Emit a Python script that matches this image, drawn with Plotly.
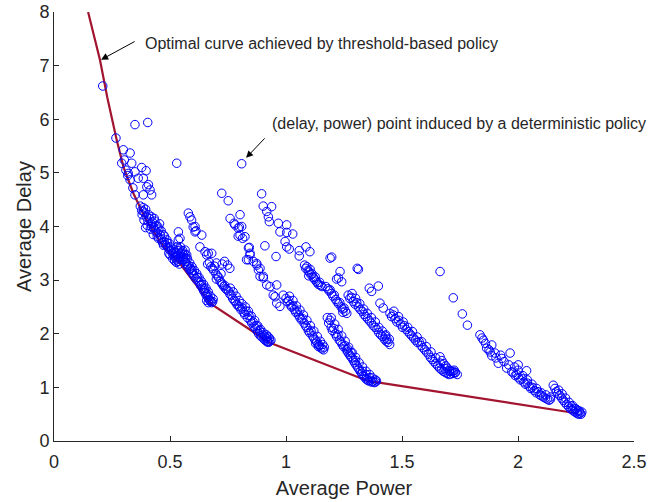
import plotly.graph_objects as go

# Optimal curve (threshold-based policy)
curve_power = [0.147, 0.170, 0.198, 0.230, 0.270, 0.300, 0.342, 0.400, 0.471, 0.543, 0.672, 0.931, 1.353, 2.253]
curve_delay = [8.00, 7.60, 7.11, 6.40, 5.62, 5.10, 4.62, 4.10, 3.63, 3.31, 2.57, 1.83, 1.12, 0.517]

# Deterministic-policy points, grouped by streak
g1 = [(0.210, 6.62), (0.349, 5.90), (0.404, 5.94), (0.529, 5.18), (0.809, 5.17),
      (0.267, 5.65), (0.299, 5.43), (0.328, 5.37), (0.303, 5.24), (0.292, 5.18), (0.335, 5.18),
      (0.378, 5.10), (0.397, 5.04), (0.320, 4.99), (0.349, 5.02), (0.328, 4.87), (0.363, 4.90),
      (0.385, 4.90), (0.407, 4.78), (0.400, 4.74), (0.414, 4.68), (0.385, 4.59), (0.349, 4.59),
      (0.421, 4.59), (0.318, 4.95), (0.340, 4.72), (0.310, 5.05),
      (0.372, 4.38), (0.378, 4.30), (0.385, 4.35), (0.380, 4.22), (0.392, 4.25), (0.398, 4.18),
      (0.388, 4.12), (0.405, 4.10), (0.412, 4.15), (0.418, 4.05), (0.402, 4.02), (0.425, 4.08),
      (0.430, 3.98), (0.415, 3.95), (0.436, 3.92), (0.440, 4.02), (0.445, 3.88), (0.428, 3.85),
      (0.452, 3.95), (0.458, 3.84), (0.450, 3.78), (0.462, 3.76), (0.470, 3.85), (0.468, 3.70),
      (0.475, 3.72), (0.480, 3.66), (0.486, 3.75), (0.490, 3.62), (0.495, 3.58), (0.498, 3.68),
      (0.505, 3.55), (0.510, 3.50), (0.515, 3.58), (0.518, 3.45), (0.522, 3.42), (0.525, 3.52),
      (0.530, 3.38), (0.535, 3.35), (0.540, 3.30), (0.528, 3.33), (0.512, 3.40), (0.500, 3.47),
      (0.545, 3.42), (0.395, 3.98), (0.432, 4.15), (0.455, 4.05)]

g2 = [(0.579, 4.25), (0.586, 4.18), (0.593, 4.12), (0.600, 3.99), (0.608, 4.00), (0.612, 3.92),
      (0.637, 3.84), (0.608, 3.90), (0.536, 3.90), (0.543, 3.78), (0.536, 3.75), (0.565, 3.56),
      (0.572, 3.47), (0.629, 3.62), (0.651, 3.53), (0.665, 3.50), (0.680, 3.50), (0.658, 3.47),
      (0.530, 3.62), (0.535, 3.55), (0.540, 3.58), (0.545, 3.50), (0.548, 3.45), (0.552, 3.52),
      (0.556, 3.42), (0.560, 3.38), (0.558, 3.47), (0.565, 3.35), (0.568, 3.40), (0.572, 3.30),
      (0.575, 3.25), (0.580, 3.28), (0.584, 3.20), (0.588, 3.22), (0.592, 3.15), (0.596, 3.18),
      (0.600, 3.12), (0.603, 3.08),
      (0.612, 3.02), (0.618, 3.05), (0.622, 2.98), (0.628, 2.95), (0.632, 2.90), (0.636, 2.92),
      (0.640, 2.85), (0.645, 2.80), (0.648, 2.84), (0.652, 2.76), (0.656, 2.72), (0.660, 2.75),
      (0.664, 2.68), (0.668, 2.64), (0.672, 2.62), (0.676, 2.60), (0.680, 2.58), (0.684, 2.60),
      (0.665, 2.58), (0.658, 2.62)]

g3 = [(0.662, 3.30), (0.670, 3.33), (0.676, 3.25), (0.682, 3.22), (0.688, 3.18), (0.692, 3.26),
      (0.698, 3.12), (0.704, 3.08), (0.700, 3.02), (0.710, 3.05), (0.716, 2.98), (0.722, 2.95),
      (0.726, 2.92), (0.732, 2.88), (0.736, 2.90), (0.740, 2.84), (0.745, 2.82), (0.720, 3.12),
      (0.700, 3.32), (0.725, 3.30), (0.735, 3.35), (0.748, 3.28), (0.758, 3.22),
      (0.752, 2.80), (0.758, 2.74), (0.764, 2.72), (0.770, 2.66), (0.776, 2.62), (0.782, 2.60),
      (0.788, 2.55), (0.794, 2.52), (0.800, 2.50), (0.806, 2.45), (0.812, 2.48), (0.818, 2.40),
      (0.822, 2.36), (0.828, 2.42), (0.834, 2.30), (0.840, 2.34), (0.846, 2.25), (0.852, 2.20),
      (0.858, 2.22), (0.862, 2.14), (0.868, 2.10), (0.872, 2.15), (0.876, 2.05), (0.882, 2.00),
      (0.886, 2.06), (0.890, 1.96), (0.896, 1.94), (0.900, 1.98), (0.905, 1.90), (0.910, 1.88),
      (0.915, 1.92), (0.920, 1.86), (0.925, 1.84), (0.930, 1.86), (0.918, 1.85), (0.908, 1.95)]

g4 = [(0.723, 4.62), (0.751, 4.48), (0.759, 4.15), (0.776, 4.06), (0.780, 4.03), (0.794, 3.97),
      (0.799, 3.99), (0.802, 4.22), (0.809, 4.00), (0.802, 3.84), (0.823, 3.81), (0.794, 3.82),
      (0.813, 3.78), (0.838, 3.60), (0.842, 3.61), (0.830, 3.38), (0.845, 3.50), (0.838, 3.38),
      (0.859, 3.35), (0.874, 3.28), (0.881, 3.19), (0.888, 3.07), (0.902, 3.04), (0.917, 2.91),
      (0.931, 2.88), (0.953, 2.69), (0.888, 3.22), (0.874, 3.31), (0.845, 3.47), (0.902, 3.07),
      (0.960, 2.91), (0.945, 2.72), (0.960, 2.57), (0.974, 2.51), (0.988, 2.72),
      (0.895, 4.61), (0.902, 4.38), (0.938, 4.37), (0.917, 4.28), (0.924, 4.18), (0.928, 4.09),
      (0.967, 4.06), (1.003, 4.03), (0.974, 3.90), (1.003, 3.89), (1.029, 3.86), (0.996, 3.72),
      (1.003, 3.62), (1.014, 3.58), (0.909, 3.64), (0.957, 3.44),
      (1.057, 3.55), (1.057, 3.45), (1.086, 3.62), (1.103, 3.53), (1.190, 3.41), (1.197, 3.43),
      (1.307, 3.22), (1.312, 3.20), (1.233, 3.16), (1.226, 3.04), (1.240, 2.97), (1.218, 3.02),
      (1.664, 3.16), (1.721, 2.67), (1.760, 2.37), (1.782, 2.16)]

g5 = [(1.080, 3.28), (1.085, 3.22), (1.090, 3.25), (1.095, 3.18), (1.100, 3.15), (1.104, 3.20),
      (1.108, 3.10), (1.112, 3.12), (1.118, 3.05), (1.122, 3.02), (1.126, 3.06), (1.130, 2.98),
      (1.135, 2.95), (1.140, 2.92), (1.145, 2.96), (1.150, 2.90), (1.155, 2.88), (1.098, 3.08),
      (1.172, 2.88), (1.180, 2.84), (1.186, 2.80), (1.190, 2.82), (1.196, 2.75), (1.202, 2.70),
      (1.208, 2.72), (1.214, 2.64), (1.220, 2.60), (1.226, 2.56), (1.232, 2.58), (1.238, 2.50),
      (1.244, 2.46), (1.250, 2.48), (1.256, 2.42), (1.262, 2.38), (1.245, 2.40),
      (1.000, 2.66), (1.006, 2.60), (1.012, 2.62), (1.018, 2.54), (1.024, 2.50), (1.030, 2.52),
      (1.036, 2.45), (1.042, 2.40), (1.048, 2.42), (1.054, 2.35), (1.060, 2.30), (1.066, 2.26),
      (1.072, 2.28), (1.078, 2.20), (1.084, 2.15), (1.090, 2.12), (1.096, 2.06), (1.102, 2.02),
      (1.108, 2.05), (1.114, 1.96), (1.120, 1.92), (1.126, 1.88), (1.132, 1.85), (1.138, 1.80),
      (1.144, 1.78), (1.150, 1.74), (1.156, 1.72), (1.162, 1.70), (1.140, 1.76), (1.128, 1.82)]

g6 = [(1.178, 2.30), (1.184, 2.20), (1.190, 2.25), (1.195, 2.12), (1.200, 2.06), (1.206, 2.10),
      (1.212, 2.00), (1.218, 1.95), (1.224, 1.98), (1.230, 1.88), (1.236, 1.85), (1.242, 1.80),
      (1.248, 1.76), (1.254, 1.78), (1.260, 1.70), (1.266, 1.66), (1.272, 1.62), (1.278, 1.58),
      (1.284, 1.55), (1.290, 1.50), (1.296, 1.46), (1.302, 1.42), (1.308, 1.38), (1.314, 1.34),
      (1.320, 1.30), (1.326, 1.26), (1.332, 1.22), (1.338, 1.20), (1.344, 1.16), (1.350, 1.14),
      (1.356, 1.12), (1.362, 1.13), (1.368, 1.10), (1.374, 1.11), (1.380, 1.09), (1.386, 1.10),
      (1.360, 1.18), (1.345, 1.24), (1.330, 1.30), (1.300, 1.50), (1.280, 1.65), (1.265, 1.72),
      (1.268, 2.72), (1.275, 2.66), (1.282, 2.68), (1.290, 2.60), (1.298, 2.55), (1.305, 2.58),
      (1.312, 2.50), (1.320, 2.45), (1.328, 2.42), (1.336, 2.36), (1.344, 2.32), (1.352, 2.28),
      (1.360, 2.24), (1.368, 2.20), (1.376, 2.15), (1.384, 2.12), (1.392, 2.08), (1.400, 2.02),
      (1.408, 1.98), (1.416, 1.95), (1.424, 1.90), (1.432, 1.86), (1.440, 1.84), (1.435, 1.90),
      (1.428, 1.96), (1.398, 2.89), (1.359, 2.85), (1.369, 2.79), (1.405, 2.57), (1.419, 2.48)]

g7 = [(1.448, 2.38), (1.455, 2.32), (1.462, 2.35), (1.470, 2.28), (1.478, 2.22), (1.486, 2.25),
      (1.494, 2.18), (1.502, 2.12), (1.510, 2.15), (1.518, 2.08), (1.526, 2.04), (1.534, 2.00),
      (1.542, 1.96), (1.550, 1.92), (1.558, 1.88), (1.566, 1.84), (1.574, 1.85), (1.582, 1.78),
      (1.590, 1.74), (1.598, 1.70), (1.606, 1.66), (1.614, 1.62), (1.622, 1.56), (1.630, 1.52),
      (1.638, 1.48), (1.646, 1.44), (1.654, 1.40), (1.662, 1.36), (1.670, 1.33), (1.678, 1.30),
      (1.686, 1.28), (1.694, 1.26), (1.702, 1.24), (1.710, 1.25), (1.720, 1.26), (1.728, 1.27),
      (1.664, 1.57), (1.672, 1.50), (1.680, 1.44), (1.688, 1.40), (1.696, 1.36), (1.704, 1.32),
      (1.712, 1.30), (1.720, 1.30), (1.730, 1.28)]

g8 = [(1.836, 1.98), (1.851, 1.88), (1.887, 1.79), (1.865, 1.73), (1.901, 1.64), (1.966, 1.64),
      (1.887, 1.59), (1.930, 1.54), (1.915, 1.45), (1.951, 1.36), (2.001, 1.42), (2.037, 1.31),
      (1.973, 1.29), (2.152, 1.04), (2.159, 0.98), (1.845, 1.92), (1.875, 1.70), (1.940, 1.48),
      (1.980, 1.27), (1.988, 1.22), (1.995, 1.24), (2.002, 1.18), (2.010, 1.14), (2.018, 1.16),
      (2.025, 1.10), (2.032, 1.06), (2.040, 1.08), (2.048, 1.02), (2.055, 0.98), (2.062, 1.00),
      (2.070, 0.94), (2.078, 0.90), (2.086, 0.92), (2.094, 0.86), (2.102, 0.84), (2.110, 0.82),
      (2.118, 0.80), (2.126, 0.78), (2.134, 0.76), (2.140, 0.78),
      (2.165, 0.92), (2.172, 0.88), (2.180, 0.85), (2.188, 0.80), (2.195, 0.76), (2.202, 0.72),
      (2.210, 0.68), (2.218, 0.64), (2.226, 0.60), (2.234, 0.58), (2.242, 0.55), (2.250, 0.53),
      (2.256, 0.51), (2.262, 0.50), (2.268, 0.52), (2.272, 0.50), (2.245, 0.60), (2.230, 0.65),
      (2.258, 0.56)]

# additional points read from the thick parts of the dense streaks
g9 = [(0.385, 4.28), (0.395, 4.32), (0.408, 4.22), (0.420, 4.18), (0.435, 4.10), (0.448, 4.00),
      (0.462, 3.92), (0.476, 3.82), (0.488, 3.70), (0.502, 3.62), (0.515, 3.52), (0.528, 3.45),
      (0.538, 3.40), (0.420, 4.00), (0.445, 3.82), (0.472, 3.65), (0.495, 3.50), (0.520, 3.36),
      (0.545, 3.62), (0.555, 3.55), (0.565, 3.48), (0.575, 3.40), (0.585, 3.32), (0.595, 3.25),
      (0.605, 3.18), (0.615, 3.12), (0.625, 3.05), (0.635, 2.98), (0.645, 2.92), (0.655, 2.85),
      (0.665, 2.78), (0.675, 2.70), (0.686, 2.65),
      (0.760, 2.85), (0.772, 2.78), (0.785, 2.70), (0.798, 2.62), (0.810, 2.56), (0.825, 2.50),
      (0.838, 2.42), (0.850, 2.33), (0.865, 2.25), (0.878, 2.15), (0.890, 2.08), (0.902, 2.02),
      (0.915, 1.98), (0.928, 1.92), (0.935, 1.88), (0.922, 1.95),
      (1.015, 2.70), (1.030, 2.62), (1.045, 2.52), (1.060, 2.44), (1.075, 2.35), (1.090, 2.25),
      (1.105, 2.15), (1.120, 2.05), (1.135, 1.95), (1.148, 1.86), (1.158, 1.80), (1.165, 1.75),
      (1.195, 2.30), (1.210, 2.18), (1.225, 2.08), (1.240, 1.96), (1.255, 1.86), (1.270, 1.75),
      (1.285, 1.65), (1.300, 1.56), (1.315, 1.46), (1.330, 1.38), (1.345, 1.30), (1.360, 1.24),
      (1.372, 1.18), (1.385, 1.14), (1.390, 1.12),
      (1.285, 2.75), (1.300, 2.66), (1.318, 2.56), (1.335, 2.46), (1.350, 2.38), (1.368, 2.30),
      (1.385, 2.22), (1.400, 2.12), (1.415, 2.05), (1.430, 1.98), (1.445, 1.90), (1.447, 1.80),
      (1.465, 2.42), (1.485, 2.32), (1.505, 2.22), (1.525, 2.12), (1.545, 2.04), (1.565, 1.94),
      (1.585, 1.85), (1.605, 1.76), (1.625, 1.66), (1.645, 1.55), (1.665, 1.45), (1.685, 1.35),
      (1.705, 1.30), (1.725, 1.32), (1.738, 1.24),
      (2.000, 1.32), (2.020, 1.22), (2.040, 1.14), (2.060, 1.06), (2.080, 0.98), (2.100, 0.90),
      (2.120, 0.86), (2.140, 0.82), (2.175, 0.95), (2.190, 0.88), (2.205, 0.80), (2.220, 0.72),
      (2.235, 0.66), (2.250, 0.60), (2.265, 0.56), (2.275, 0.54),
      (1.860, 1.82), (1.880, 1.66), (1.905, 1.55), (1.925, 1.60), (1.960, 1.42), (1.985, 1.38)]

groups = [g1, g2, g3, g4, g5, g6, g7, g8, g9]
pts_power = [p for g in groups for p, d in g]
pts_delay = [d for g in groups for p, d in g]

x_ticks = [0, 0.5, 1, 1.5, 2, 2.5]
x_labels = ["0", "0.5", "1", "1.5", "2", "2.5"]
y_ticks = [0, 1, 2, 3, 4, 5, 6, 7, 8]

TXT = "#262626"
FONT = "Liberation Sans, Arial, sans-serif"

fig = go.Figure()
fig.add_trace(go.Scatter(x=curve_power, y=curve_delay, mode="lines",
                         line=dict(color="#A2142F", width=2.2), hoverinfo="skip"))
fig.add_trace(go.Scatter(x=pts_power, y=pts_delay, mode="markers",
                         marker=dict(symbol="circle-open", size=8.5, color="#0000FF",
                                     line=dict(width=1, color="#0000FF"))))

fig.update_layout(
    width=648, height=502,
    margin=dict(l=54, r=14, t=12, b=61, autoexpand=False),
    paper_bgcolor="white", plot_bgcolor="white",
    showlegend=False,
    font=dict(family=FONT, color=TXT),
    xaxis=dict(range=[0, 2.5], tickvals=x_ticks, ticktext=x_labels, ticks="inside",
               ticklen=5, tickcolor=TXT, showline=True, linecolor=TXT, linewidth=1,
               showgrid=False, zeroline=False, tickfont=dict(size=18, color=TXT),
               automargin=False, ticklabelstandoff=4,
               title=dict(text="Average Power", font=dict(size=20, color=TXT), standoff=10)),
    yaxis=dict(range=[0, 8], tickvals=y_ticks, ticks="inside", ticklen=5, tickcolor=TXT,
               showline=True, linecolor=TXT, linewidth=1, showgrid=False, zeroline=False,
               tickfont=dict(size=18, color=TXT), automargin=False,
               title=dict(text="Average Delay", font=dict(size=20, color=TXT), standoff=2)),
)

ann_font = dict(family=FONT, size=16, color="#262626")
fig.add_annotation(x=0.203, y=7.11, ax=35, ay=-19, text="", showarrow=True,
                   arrowhead=2, arrowsize=1.4, arrowwidth=1, arrowcolor="black")
fig.add_annotation(x=0.384, y=7.41, text="Optimal curve achieved by threshold-based policy",
                   showarrow=False, xanchor="left", yanchor="middle", font=ann_font)
fig.add_annotation(x=0.828, y=5.28, ax=20, ay=-21, text="", showarrow=True,
                   arrowhead=2, arrowsize=1.4, arrowwidth=1, arrowcolor="black")
fig.add_annotation(x=0.931, y=5.93, text="(delay, power) point induced by a deterministic policy",
                   showarrow=False, xanchor="left", yanchor="middle", font=ann_font)

fig.write_html("out.html")
